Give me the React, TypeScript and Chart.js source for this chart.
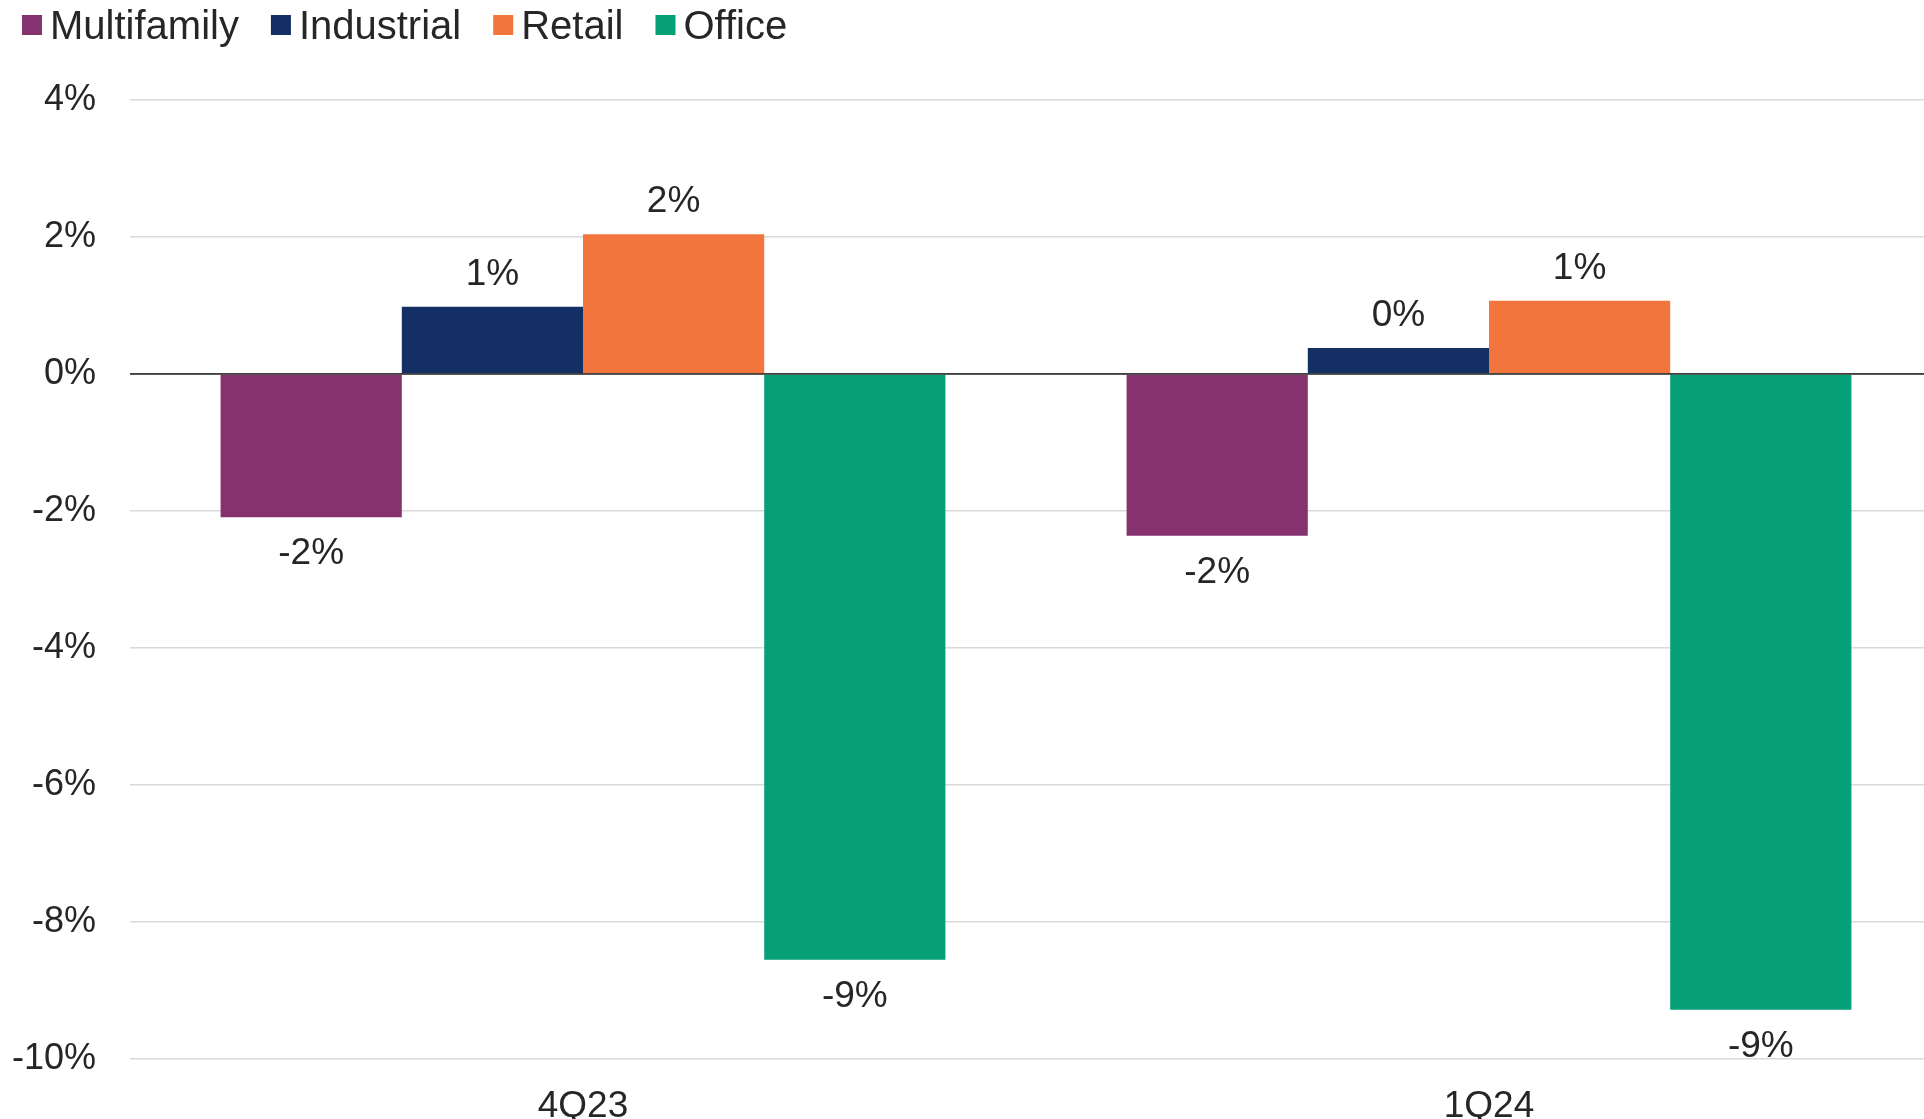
import React, { useEffect, useRef } from "react";
import { Chart, registerables } from "chart.js";

Chart.register(...registerables);

const categories = ["4Q23", "1Q24"];
const seriesNames = ["Multifamily", "Industrial", "Retail", "Office"];
const multifamily = [-2.09, -2.36];
const industrial = [0.98, 0.38];
const retail = [2.04, 1.07];
const office = [-8.55, -9.28];
const seriesColors = ["#86326F", "#132F63", "#F2753D", "#06A078"];
const yMin = -10;
const yMax = 4;
const yStep = 2;

const FONT = '"Liberation Sans", Arial, Helvetica, sans-serif';
const TEXT = "#262626";

const legendPlugin = {
  id: "customLegend",
  afterDraw(chart: any) {
    const ctx = chart.ctx;
    ctx.save();
    ctx.font = `40px ${FONT}`;
    ctx.textBaseline = "alphabetic";
    ctx.textAlign = "left";
    let x = 22;
    chart.data.datasets.forEach((ds: any) => {
      ctx.fillStyle = ds.backgroundColor;
      ctx.fillRect(x, 15, 20, 20);
      ctx.fillStyle = TEXT;
      ctx.fillText(ds.label, x + 28, 39);
      x += 28 + ctx.measureText(ds.label).width + 32;
    });
    ctx.restore();
  },
};

const labelPlugin = {
  id: "valueLabels",
  afterDatasetsDraw(chart: any) {
    const ctx = chart.ctx;
    const area = chart.chartArea;
    const y0 = chart.scales.y.getPixelForValue(0);
    ctx.save();
    ctx.strokeStyle = "#404040";
    ctx.lineWidth = 1.5;
    ctx.beginPath();
    ctx.moveTo(area.left, y0);
    ctx.lineTo(area.right, y0);
    ctx.stroke();

    ctx.font = `37px ${FONT}`;
    ctx.fillStyle = TEXT;
    ctx.textAlign = "center";
    ctx.textBaseline = "middle";
    chart.data.datasets.forEach((ds: any, i: number) => {
      const meta = chart.getDatasetMeta(i);
      meta.data.forEach((bar: any, j: number) => {
        const v = ds.data[j] as number;
        const r = Math.round(v);
        const txt = (r === 0 ? 0 : r) + "%";
        const y = v >= 0 ? bar.y - 32 : bar.y + 37;
        ctx.fillText(txt, bar.x, y);
      });
    });
    ctx.restore();
  },
};

export default function App() {
  const ref = useRef<HTMLCanvasElement | null>(null);

  useEffect(() => {
    if (!ref.current) return;
    const values = [multifamily, industrial, retail, office];
    const chart = new Chart(ref.current, {
      type: "bar",
      data: {
        labels: categories,
        datasets: seriesNames.map((name, i) => ({
          label: name,
          data: values[i],
          backgroundColor: seriesColors[i],
          borderWidth: 0,
          categoryPercentage: 0.8,
          barPercentage: 1.0,
        })),
      },
      options: {
        responsive: false,
        animation: false,
        devicePixelRatio: 1,
        layout: { padding: { top: 100, right: 18, left: 0, bottom: 0 } },
        plugins: {
          legend: { display: false },
          tooltip: { enabled: false },
          title: { display: false },
        },
        scales: {
          x: {
            grid: { display: false },
            border: { display: false },
            ticks: {
              color: TEXT,
              font: { family: FONT, size: 37 },
              padding: 18,
            },
            afterFit: (s: any) => {
              s.height = 60;
            },
          },
          y: {
            min: yMin,
            max: yMax,
            border: { display: false },
            grid: {
              drawTicks: false,
              color: (c: any) => (c.tick && c.tick.value === 0 ? "#404040" : "#D9D9D9"),
              lineWidth: 1.5,
            },
            ticks: {
              stepSize: yStep,
              color: TEXT,
              font: { family: FONT, size: 36 },
              padding: 34,
              callback: (v: any) => `${v}%`,
            },
            afterFit: (s: any) => {
              s.width = 130;
            },
          },
        },
      },
      plugins: [legendPlugin, labelPlugin],
    });
    return () => chart.destroy();
  }, []);

  return (
    <div
      style={{
        position: "fixed",
        left: 0,
        top: 0,
        width: 1924,
        height: 1119,
        overflow: "hidden",
        background: "#ffffff",
      }}
    >
      <canvas
        ref={ref}
        width={1960}
        height={1119}
        style={{ display: "block", width: 1960, height: 1119 }}
      />
    </div>
  );
}
